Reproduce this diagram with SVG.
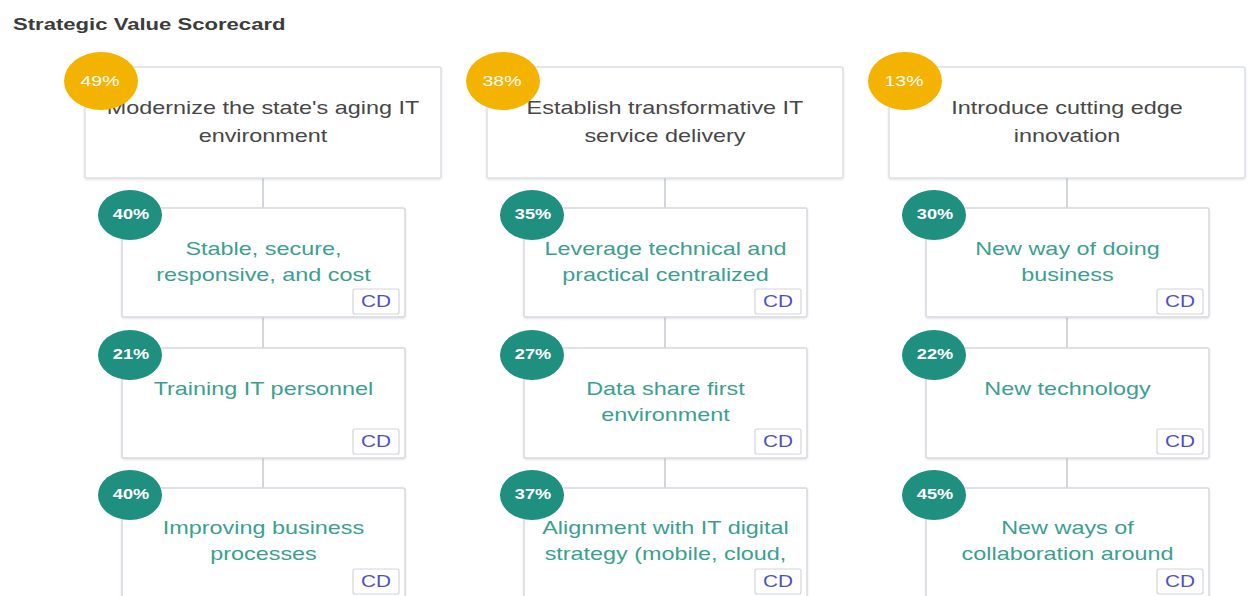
<svg xmlns="http://www.w3.org/2000/svg" width="1248" height="596" viewBox="0 0 1248 596">
<defs>
<filter id="sh" x="-5%" y="-5%" width="110%" height="115%">
<feDropShadow dx="0" dy="1" stdDeviation="1" flood-color="#000" flood-opacity="0.12"/>
</filter>
</defs>
<style>
.title{font-family:"Liberation Sans",Arial,sans-serif;font-size:17px;font-weight:bold;fill:#3c3c3c}
.mbox{fill:#fff;stroke:#dcdfe5;stroke-width:1.5}
.cbox{fill:#fff;stroke:#d6d9e0;stroke-width:1.5}
.mt{font-family:"Liberation Sans",Arial,sans-serif;font-size:18px;fill:#474747;text-anchor:middle}
.ct{font-family:"Liberation Sans",Arial,sans-serif;font-size:18px;fill:#3b9f90;text-anchor:middle}
.org{fill:#f5b301}
.grn{fill:#1f8f7f}
.pct{font-family:"Liberation Sans",Arial,sans-serif;font-size:14px;font-weight:bold;fill:#fff;text-anchor:middle}
.badge{fill:#fff;stroke:#d3d5dc;stroke-width:1.2}
.cd{font-family:"Liberation Sans",Arial,sans-serif;font-size:16px;fill:#4f4fc9;text-anchor:middle}
.conn{stroke:#d3d6dc;stroke-width:2;fill:none}
</style>
<rect width="1248" height="596" fill="#fff"/>
<text class="title" transform="translate(13 30) scale(1.3 1)">Strategic Value Scorecard</text>

<g id="connectors">
<line class="conn" x1="263" y1="178" x2="263" y2="208"/>
<line class="conn" x1="263" y1="317" x2="263" y2="348"/>
<line class="conn" x1="263" y1="458" x2="263" y2="488"/>
<line class="conn" x1="665" y1="178" x2="665" y2="208"/>
<line class="conn" x1="665" y1="317" x2="665" y2="348"/>
<line class="conn" x1="665" y1="458" x2="665" y2="488"/>
<line class="conn" x1="1067" y1="178" x2="1067" y2="208"/>
<line class="conn" x1="1067" y1="317" x2="1067" y2="348"/>
<line class="conn" x1="1067" y1="458" x2="1067" y2="488"/>
</g>

<!-- Column 1 -->
<g id="goal1">
<rect class="mbox" x="85" y="67" width="356" height="111" rx="2" filter="url(#sh)"/>
<text class="mt" transform="translate(263 114) scale(1.3 1)">Modernize the state's aging IT</text>
<text class="mt" transform="translate(263 142) scale(1.3 1)">environment</text>
<ellipse class="org" cx="101" cy="81" rx="37" ry="29"/>
<text class="pct" transform="translate(100 86) scale(1.3 1)" style="font-weight:normal;font-size:15px">49%</text>
</g>
<g id="obj1a">
<rect class="cbox" x="122" y="208" width="283" height="109" rx="2" filter="url(#sh)"/>
<text class="ct" transform="translate(263.5 255) scale(1.3 1)">Stable, secure,</text>
<text class="ct" transform="translate(263.5 281) scale(1.3 1)">responsive, and cost</text>
<ellipse class="grn" cx="130" cy="215" rx="32" ry="25"/>
<text class="pct" transform="translate(131 219) scale(1.3 1)">40%</text>
<rect class="badge" x="353" y="289" width="46" height="25" rx="2"/>
<text class="cd" transform="translate(376 307) scale(1.3 1)">CD</text>
</g>
<g id="obj1b">
<rect class="cbox" x="122" y="348" width="283" height="110" rx="2" filter="url(#sh)"/>
<text class="ct" transform="translate(263.5 395) scale(1.3 1)">Training IT personnel</text>
<ellipse class="grn" cx="130" cy="355" rx="32" ry="25"/>
<text class="pct" transform="translate(131 359) scale(1.3 1)">21%</text>
<rect class="badge" x="353" y="429" width="46" height="25" rx="2"/>
<text class="cd" transform="translate(376 447) scale(1.3 1)">CD</text>
</g>
<g id="obj1c">
<rect class="cbox" x="122" y="488" width="283" height="115" rx="2" filter="url(#sh)"/>
<text class="ct" transform="translate(263.5 534) scale(1.3 1)">Improving business</text>
<text class="ct" transform="translate(263.5 560) scale(1.3 1)">processes</text>
<ellipse class="grn" cx="130" cy="495" rx="32" ry="25"/>
<text class="pct" transform="translate(131 499) scale(1.3 1)">40%</text>
<rect class="badge" x="353" y="569" width="46" height="25" rx="2"/>
<text class="cd" transform="translate(376 587) scale(1.3 1)">CD</text>
</g>

<!-- Column 2 -->
<g id="goal2">
<rect class="mbox" x="487" y="67" width="356" height="111" rx="2" filter="url(#sh)"/>
<text class="mt" transform="translate(665 114) scale(1.3 1)">Establish transformative IT</text>
<text class="mt" transform="translate(665 142) scale(1.3 1)">service delivery</text>
<ellipse class="org" cx="503" cy="81" rx="37" ry="29"/>
<text class="pct" transform="translate(502 86) scale(1.3 1)" style="font-weight:normal;font-size:15px">38%</text>
</g>
<g id="obj2a">
<rect class="cbox" x="524" y="208" width="283" height="109" rx="2" filter="url(#sh)"/>
<text class="ct" transform="translate(665.5 255) scale(1.3 1)">Leverage technical and</text>
<text class="ct" transform="translate(665.5 281) scale(1.3 1)">practical centralized</text>
<ellipse class="grn" cx="532" cy="215" rx="32" ry="25"/>
<text class="pct" transform="translate(533 219) scale(1.3 1)">35%</text>
<rect class="badge" x="755" y="289" width="46" height="25" rx="2"/>
<text class="cd" transform="translate(778 307) scale(1.3 1)">CD</text>
</g>
<g id="obj2b">
<rect class="cbox" x="524" y="348" width="283" height="110" rx="2" filter="url(#sh)"/>
<text class="ct" transform="translate(665.5 395) scale(1.3 1)">Data share first</text>
<text class="ct" transform="translate(665.5 421) scale(1.3 1)">environment</text>
<ellipse class="grn" cx="532" cy="355" rx="32" ry="25"/>
<text class="pct" transform="translate(533 359) scale(1.3 1)">27%</text>
<rect class="badge" x="755" y="429" width="46" height="25" rx="2"/>
<text class="cd" transform="translate(778 447) scale(1.3 1)">CD</text>
</g>
<g id="obj2c">
<rect class="cbox" x="524" y="488" width="283" height="115" rx="2" filter="url(#sh)"/>
<text class="ct" transform="translate(665.5 534) scale(1.3 1)">Alignment with IT digital</text>
<text class="ct" transform="translate(665.5 560) scale(1.3 1)">strategy (mobile, cloud,</text>
<ellipse class="grn" cx="532" cy="495" rx="32" ry="25"/>
<text class="pct" transform="translate(533 499) scale(1.3 1)">37%</text>
<rect class="badge" x="755" y="569" width="46" height="25" rx="2"/>
<text class="cd" transform="translate(778 587) scale(1.3 1)">CD</text>
</g>

<!-- Column 3 -->
<g id="goal3">
<rect class="mbox" x="889" y="67" width="356" height="111" rx="2" filter="url(#sh)"/>
<text class="mt" transform="translate(1067 114) scale(1.3 1)">Introduce cutting edge</text>
<text class="mt" transform="translate(1067 142) scale(1.3 1)">innovation</text>
<ellipse class="org" cx="905" cy="81" rx="37" ry="29"/>
<text class="pct" transform="translate(904 86) scale(1.3 1)" style="font-weight:normal;font-size:15px">13%</text>
</g>
<g id="obj3a">
<rect class="cbox" x="926" y="208" width="283" height="109" rx="2" filter="url(#sh)"/>
<text class="ct" transform="translate(1067.5 255) scale(1.3 1)">New way of doing</text>
<text class="ct" transform="translate(1067.5 281) scale(1.3 1)">business</text>
<ellipse class="grn" cx="934" cy="215" rx="32" ry="25"/>
<text class="pct" transform="translate(935 219) scale(1.3 1)">30%</text>
<rect class="badge" x="1157" y="289" width="46" height="25" rx="2"/>
<text class="cd" transform="translate(1180 307) scale(1.3 1)">CD</text>
</g>
<g id="obj3b">
<rect class="cbox" x="926" y="348" width="283" height="110" rx="2" filter="url(#sh)"/>
<text class="ct" transform="translate(1067.5 395) scale(1.3 1)">New technology</text>
<ellipse class="grn" cx="934" cy="355" rx="32" ry="25"/>
<text class="pct" transform="translate(935 359) scale(1.3 1)">22%</text>
<rect class="badge" x="1157" y="429" width="46" height="25" rx="2"/>
<text class="cd" transform="translate(1180 447) scale(1.3 1)">CD</text>
</g>
<g id="obj3c">
<rect class="cbox" x="926" y="488" width="283" height="115" rx="2" filter="url(#sh)"/>
<text class="ct" transform="translate(1067.5 534) scale(1.3 1)">New ways of</text>
<text class="ct" transform="translate(1067.5 560) scale(1.3 1)">collaboration around</text>
<ellipse class="grn" cx="934" cy="495" rx="32" ry="25"/>
<text class="pct" transform="translate(935 499) scale(1.3 1)">45%</text>
<rect class="badge" x="1157" y="569" width="46" height="25" rx="2"/>
<text class="cd" transform="translate(1180 587) scale(1.3 1)">CD</text>
</g>
</svg>
